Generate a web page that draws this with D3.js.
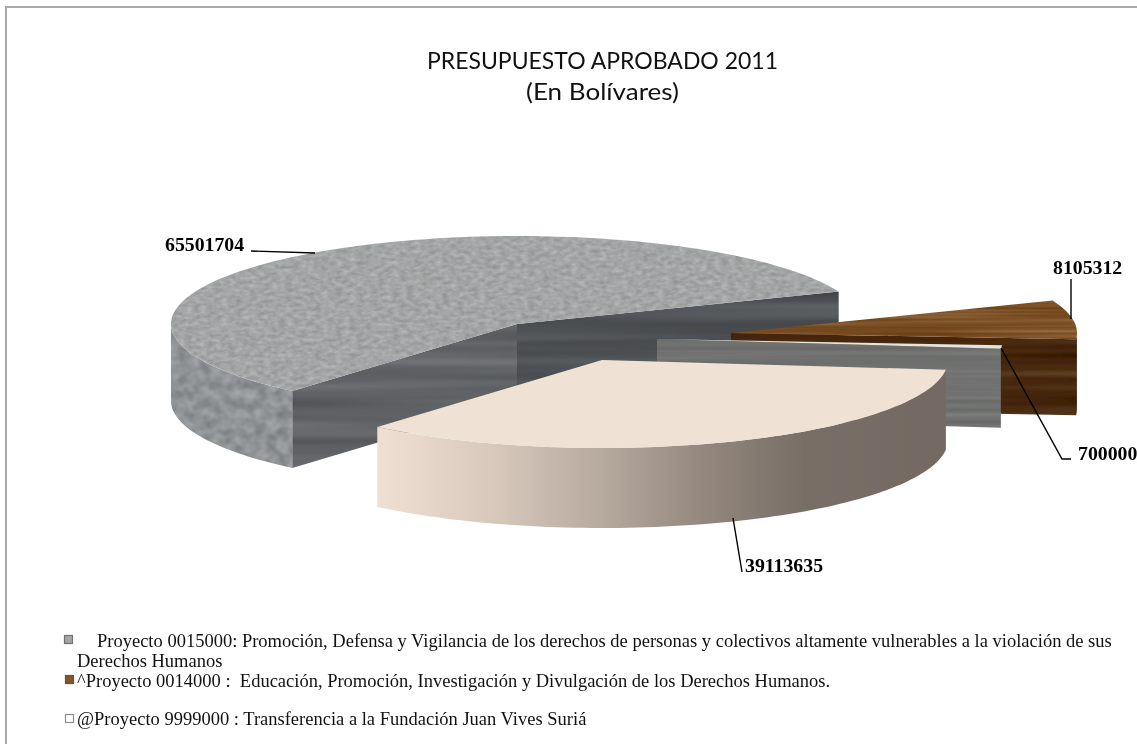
<!DOCTYPE html>
<html><head><meta charset="utf-8">
<script src="https://cdn.jsdelivr.net/npm/d3@7"></script>
<style>html,body{margin:0;padding:0;background:#fff}svg{display:block}</style>
</head><body><svg id="c" width="1137" height="744"></svg>
<script>
// data
const categories = ["Proyecto 0015000","Proyecto 0014000","Proyecto 9999000 (700000)","Transferencia"];
const values = [65501704, 8105312, 700000, 39113635];
const sliceLabels = ["65501704","8105312","700000","39113635"];
const titleLines = ["PRESUPUESTO APROBADO 2011","(En Bolívares)"];
const legendLines = [
 "Proyecto 0015000: Promoción, Defensa y Vigilancia de los derechos de personas y colectivos altamente vulnerables a la violación de sus",
 "Derechos Humanos",
 "^Proyecto 0014000 :  Educación, Promoción, Investigación y Divulgación de los Derechos Humanos.",
 "@Proyecto 9999000 : Transferencia a la Fundación Juan Vives Suriá"];

// layout
const W=1137,H=744;
const apexes=[[517,324],[731,333],[657,339],[602,360]];
const depths=[77,76,79,80];
const RX=346,RY=88;
const xS=d3.scaleLinear().domain([-1,1]).range([-RX,RX]);
const yS=d3.scaleLinear().domain([-1,1]).range([-RY,RY]);
const rad=d=>d*Math.PI/180;
const pie=d3.pie().sort(null).startAngle(rad(220.5)).endAngle(rad(580.5));
const slices=pie(values);
const svg=d3.select("#c");
const defs=svg.append("defs");
const line=d3.line();

function noise(id,freq,seed,rgb,k){
  const f=defs.append("filter").attr("id",id).attr("x",0).attr("y",0).attr("width",1).attr("height",1)
    .attr("color-interpolation-filters","sRGB");
  f.append("feTurbulence").attr("type","fractalNoise").attr("baseFrequency",freq).attr("numOctaves",2).attr("seed",seed);
  const row=c=>{const a=[0,0,0,0,0];a[0]=k;a[4]=c-k/2;return a.join(" ");};
  f.append("feColorMatrix").attr("type","matrix").attr("values",[row(rgb[0]),row(rgb[1]),row(rgb[2]),"0 0 0 0 1"].join(" "));
  f.append("feComposite").attr("in2","SourceAlpha").attr("operator","in");
}
noise("tGray","0.14 0.26",4,[.64,.65,.65],.2);
noise("tGrayWall","0.09 0.1",7,[.56,.575,.585],.24);
noise("tFaceL","0.002 0.07",11,[.385,.395,.405],.24);
noise("tFaceR","0.002 0.07",5,[.30,.315,.325],.2);
noise("tBrownTop","0.004 0.3",3,[.49,.32,.155],.24);
noise("tBrownWall","0.002 0.1",9,[.28,.16,.055],.26);
noise("tThin","0.002 0.16",2,[.44,.445,.44],.14);
defs.append("filter").attr("id","soft").attr("x",-.02).attr("y",-.02).attr("width",1.04).attr("height",1.04)
  .append("feGaussianBlur").attr("stdDeviation",.6);

const cg=defs.append("linearGradient").attr("id","creamWall").attr("gradientUnits","userSpaceOnUse")
  .attr("x1",378).attr("x2",945).attr("y1",0).attr("y2",0);
[[0,"#efe0d3"],[.2,"#d8c9bc"],[.4,"#b5a89d"],[.58,"#93877d"],[.75,"#786e66"],[1,"#746a63"]]
  .forEach(s=>cg.append("stop").attr("offset",s[0]).attr("stop-color",s[1]));

function P(i,ang,k=1,dz=0){
  const a=apexes[i];
  return [a[0]+xS(Math.sin(ang)*k), a[1]+yS(-Math.cos(ang)*k)+dz];
}
function arcPts(i,a0,a1,dz=0){
  const n=Math.max(2,Math.ceil(Math.abs(a1-a0)/rad(1.5)));
  return d3.range(n+1).map(j=>P(i,a0+(a1-a0)*j/n,1,dz));
}
function radial(i,ang){const D=depths[i];return line([P(i,ang,0),P(i,ang,1),P(i,ang,1,D),P(i,ang,0,D)])+"Z";}
function outer(i,a0,a1){return line(arcPts(i,a0,a1).concat(arcPts(i,a1,a0,depths[i])))+"Z";}
function top_(i,d){return line([P(i,d.startAngle,0)].concat(arcPts(i,d.startAngle,d.endAngle)))+"Z";}

const g=svg.append("g").attr("filter","url(#soft)");
// gray slice
let d=slices[0];
g.append("path").attr("d",outer(0,d.startAngle,rad(270))).attr("fill","#8f9294").attr("filter","url(#tGrayWall)");
g.append("path").attr("d",radial(0,d.endAngle)).attr("fill","#505254").attr("filter","url(#tFaceR)");
g.append("path").attr("d",radial(0,d.startAngle)).attr("fill","#606264").attr("filter","url(#tFaceL)");
g.append("path").attr("d",top_(0,d)).attr("fill","#a1a4a4").attr("filter","url(#tGray)");
// brown slice
d=slices[1];
g.append("path").attr("d",radial(1,d.endAngle)).attr("fill","#4a2a0e").attr("filter","url(#tBrownWall)");
g.append("path").attr("d",outer(1,rad(450),d.endAngle)).attr("fill","#4a2a0e").attr("filter","url(#tBrownWall)");
g.append("path").attr("d",top_(1,d)).attr("fill","#7d5228").attr("filter","url(#tBrownTop)");
// thin slice
d=slices[2];
g.append("path").attr("d",radial(2,d.endAngle)).attr("fill","#707170").attr("filter","url(#tThin)");
g.append("path").attr("d",top_(2,d)).attr("fill","#e4e4e0");
// cream slice
d=slices[3];
g.append("path").attr("d",outer(3,d.startAngle,d.endAngle)).attr("fill","url(#creamWall)");
g.append("path").attr("d",top_(3,d)).attr("fill","#f0e1d5");

// frame
svg.append("path").attr("d",line([[6,H],[6,7],[W,7]])).attr("fill","none").attr("stroke","#a9a9a9").attr("stroke-width",2);

// title
const titleLen=[351,153],titleY=[69,100];
svg.append("g").selectAll("text").data(titleLines).join("text")
 .attr("x",602.5).attr("y",(t,i)=>titleY[i]).attr("text-anchor","middle")
 .attr("textLength",(t,i)=>titleLen[i]).attr("lengthAdjust","spacingAndGlyphs")
 .attr("font-family","Lato, 'Open Sans', sans-serif").attr("font-size",24).attr("fill","#111").text(t=>t);

// leader lines and labels
const leaders=[[[251,251],[315,253]],[[1071,279],[1071,319]],[[1001,348],[1062,459],[1071,459]],[[733,518],[742,572]]];
const labelPos=[[165,251],[1053,274],[1078,460],[745,572]];
svg.append("g").selectAll("path").data(leaders).join("path").attr("d",l=>line(l))
 .attr("fill","none").attr("stroke","#000").attr("stroke-width",1.4);
svg.append("g").selectAll("text").data(sliceLabels).join("text")
 .attr("x",(t,i)=>labelPos[i][0]).attr("y",(t,i)=>labelPos[i][1])
 .attr("font-family","'Liberation Serif',serif").attr("font-weight","bold").attr("font-size",19.8).attr("fill","#000").text(t=>t);

// legend
const lx=[97,77,77,77],ly=[647,667,687,725];
svg.append("g").selectAll("text").data(legendLines).join("text")
 .attr("x",(t,i)=>lx[i]).attr("y",(t,i)=>ly[i]).style("white-space","pre")
 .attr("font-family","'Liberation Serif',serif").attr("font-size",18.5).attr("fill","#111").text(t=>t);
const swatches=[["#a4a6a6","#6f7171",64.5,635.5],["#865628","#555",65.5,675.5],["#ffffff","#8c8c8c",65.5,714.5]];
svg.append("g").selectAll("rect").data(swatches).join("rect")
 .attr("x",s=>s[2]).attr("y",s=>s[3]).attr("width",8).attr("height",8)
 .attr("fill",s=>s[0]).attr("stroke",s=>s[1]).attr("stroke-width",1.2);
</script></body></html>
